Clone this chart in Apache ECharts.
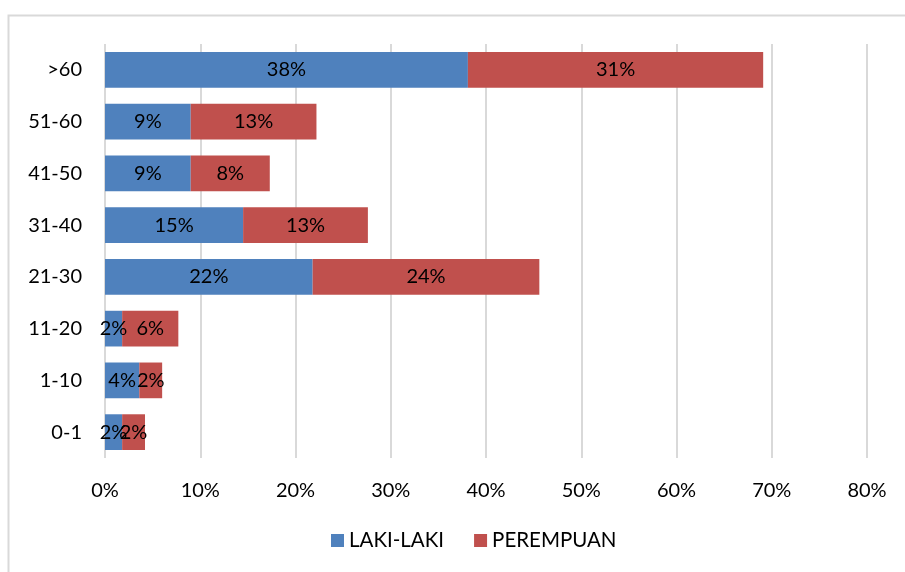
<!DOCTYPE html>
<html>
<head>
<meta charset="utf-8">
<script src="https://cdn.jsdelivr.net/npm/echarts@6/dist/echarts.min.js"></script>
<style>
  html, body { margin: 0; padding: 0; background: #fff; }
  #box1 { width: 905px; height: 572px; }
</style>
</head>
<body>
<div id="box1"></div>
<script>
var chartDom = document.getElementById('box1');
var myChart = echarts.init(chartDom);

// kelompok umur, dari bawah ke atas
var categories = ['0-1', '1-10', '11-20', '21-30', '31-40', '41-50', '51-60', '>60'];
var lakiLaki = [1.8, 3.6, 1.8, 21.8, 14.5, 9.0, 9.0, 38.1];
var perempuan = [2.4, 2.4, 5.9, 23.8, 13.1, 8.3, 13.2, 31.0];
var xTicks = [0, 10, 20, 30, 40, 50, 60, 70, 80];

var fontName = 'Lato';

var labelStyle = {
    show: true,
    position: 'inside',
    color: '#000',
    fontSize: 20,
    fontFamily: fontName,
    formatter: function (p) { return Math.round(p.value) + '%'; }
};

var option = {
    animation: false,
    graphic: [{
        type: 'rect',
        shape: { x: 8.5, y: 15.5, width: 1000, height: 1000 },
        style: { fill: 'none', stroke: '#d9d9d9', lineWidth: 2 },
        silent: true
    }],
    legend: {
        bottom: 16,
        left: 326,
        itemWidth: 13,
        itemHeight: 13,
        itemGap: 30,
        icon: 'rect',
        textStyle: { color: '#000', fontSize: 20.5, fontFamily: fontName },
        data: ['LAKI-LAKI', 'PEREMPUAN']
    },
    grid: { left: 105, right: 38, top: 44, bottom: 114 },
    xAxis: {
        type: 'value',
        min: xTicks[0],
        max: xTicks[xTicks.length - 1],
        interval: 10,
        axisLine: { show: false },
        axisTick: { show: false },
        axisLabel: {
            color: '#000',
            fontSize: 20,
            fontFamily: fontName,
            margin: 23,
            formatter: '{value}%'
        },
        splitLine: { show: true, lineStyle: { color: '#d9d9d9', width: 2 } }
    },
    yAxis: {
        type: 'category',
        data: categories,
        axisLine: { show: false },
        axisTick: { show: false },
        axisLabel: { color: '#000', fontSize: 20, fontFamily: fontName, margin: 23 }
    },
    series: [{
        name: 'LAKI-LAKI',
        type: 'bar',
        stack: 'total',
        barCategoryGap: '31%',
        itemStyle: { color: '#4F81BD' },
        label: labelStyle,
        data: lakiLaki
    }, {
        name: 'PEREMPUAN',
        type: 'bar',
        stack: 'total',
        barCategoryGap: '31%',
        itemStyle: { color: '#C0504D' },
        label: labelStyle,
        data: perempuan
    }]
};

myChart.setOption(option);
</script>
</body>
</html>
